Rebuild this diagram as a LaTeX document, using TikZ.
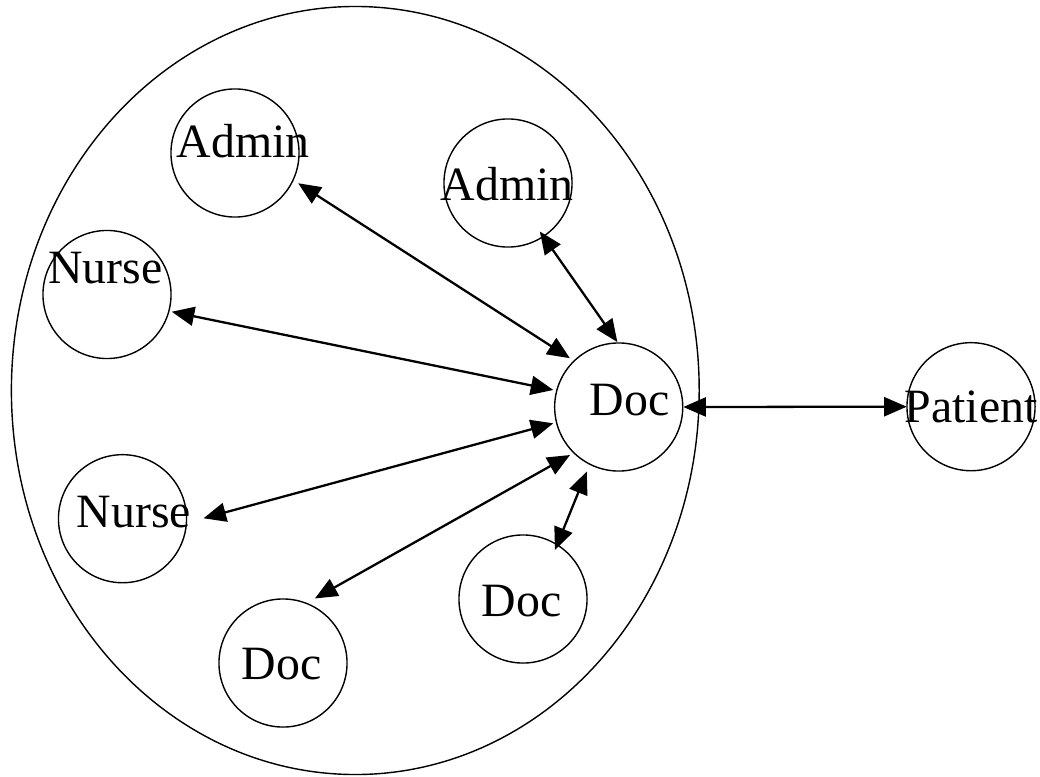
\documentclass[tikz,border=0pt]{standalone}
\usepackage{fontspec}
\setmainfont{Liberation Serif}
\usetikzlibrary{positioning}
\usetikzlibrary{arrows.meta}
\usetikzlibrary{calc}

\begin{document}
\begin{tikzpicture}[x=0.01cm, y=0.01cm,
    role/.style={draw, circle, line width=0.4pt, minimum size=1.28cm, inner sep=0pt, outer sep=0pt},
    roletext/.style={font=\fontsize{13.6}{16}\selectfont, anchor=base, inner sep=0pt},
    link/.style={{Triangle[length=6.4pt, width=5.4pt]}-{Triangle[length=6.4pt, width=5.4pt]}, line width=0.65pt}]
  \useasboundingbox (0,0) rectangle (1040,-776);

  \draw[line width=0.4pt] (355.3,-390.5) ellipse[x radius=3.437cm, y radius=3.838cm];

  \node[role] (admin1) at (235,-153) {};
  \node[role] (admin2) at (508,-183) {};
  \node[role] (nurse1) at (107,-294.5) {};
  \node[role] (doc) at (618.7,-407) {};
  \node[role] (patient) at (971,-406.7) {};
  \node[role] (nurse2) at (122.5,-518.7) {};
  \node[role] (doc2) at (523,-599) {};
  \node[role] (doc3) at (283,-663) {};

  \node[roletext] (admin1-txt) at (243,-158) {Admin};
  \node[roletext] (admin2-txt) at (507,-200) {Admin};
  \node[roletext] (nurse1-txt) at (105.5,-283.3) {Nurse};
  \node[roletext] (doc-txt) at (629.5,-415) {Doc};
  \node[roletext] (patient-txt) at (971,-422.7) {Patient};
  \node[roletext] (nurse2-txt) at (134,-527.3) {Nurse};
  \node[roletext] (doc2-txt) at (521.7,-616) {Doc};
  \node[roletext] (doc3-txt) at (281.7,-679.3) {Doc};

  \draw[link] ($(doc)+(135:69)$) -- ($(admin1)+(-25.6:70)$);
  \draw[link] ($(doc)+(91.2:65)$) -- ($(admin2)+(-56.7:58)$);
  \draw[link] ($(doc)+(165.4:67.6)$) -- ($(nurse1)+(-14.9:67)$);
  \draw[link] ($(doc)+(194:67.4)$) -- ($(nurse2)+(0.3:81)$);
  \draw[link] ($(doc)+(224.6:68.4)$) -- ($(doc3)+(63.7:72)$);
  \draw[link] ($(doc)+(243.7:72)$) -- ($(doc2)+(56.9:58.5)$);
  \draw[link] ($(doc)+(0:64.6)$) -- ($(patient)+(180:64.3)$);

\end{tikzpicture}
\end{document}
